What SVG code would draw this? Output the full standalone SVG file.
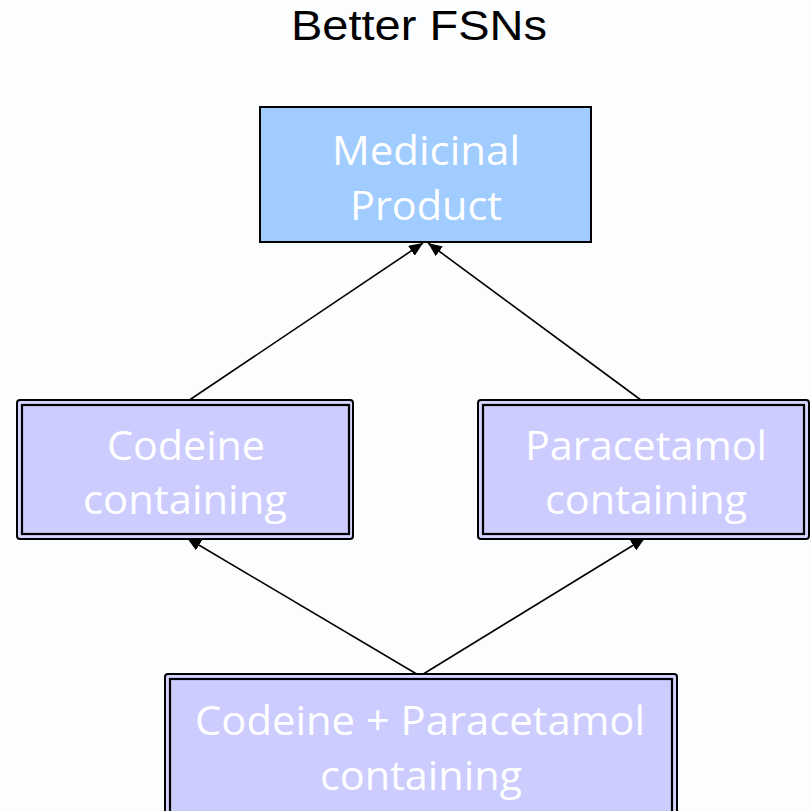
<svg xmlns="http://www.w3.org/2000/svg" width="811" height="811" viewBox="0 0 811 811">
  <defs>
    <marker id="arrow" viewBox="0 0 14 12" refX="14" refY="6" markerWidth="14" markerHeight="12" markerUnits="userSpaceOnUse" orient="auto">
      <path d="M0,0 L14,6 L0,12 Z" fill="#000"/>
    </marker>
    <style>
      .title { font-family: "Liberation Sans", Arial, sans-serif; font-size: 42px; fill: #000; }
      .label { font-family: "Open Sans", "Noto Sans", sans-serif; font-size: 41px; fill: #ffffff; text-anchor: middle; }
      .top { fill: #a0ccff; stroke: #000; stroke-width: 2; }
      .outer { fill: #d4d4ff; stroke: #000; stroke-width: 2; }
      .inner { fill: #ccccff; stroke: #000; stroke-width: 2.2; }
      .edge { stroke: #000; stroke-width: 1.6; fill: none; marker-end: url(#arrow); }
    </style>
  </defs>
  <rect x="0" y="0" width="811" height="811" fill="#fcfdff"/>

  <text class="title" x="291" y="40" textLength="256" lengthAdjust="spacingAndGlyphs">Better FSNs</text>

  <g id="connectors">
    <line class="edge" x1="185" y1="403" x2="423" y2="243"/>
    <line class="edge" x1="645" y1="403" x2="428" y2="243"/>
    <line class="edge" x1="420" y1="676" x2="187" y2="538"/>
    <line class="edge" x1="420" y1="676" x2="645" y2="538"/>
  </g>

  <g id="medicinal-product">
    <rect class="top" x="260" y="107" width="331" height="135"/>
    <text class="label" x="426" y="165" textLength="188" lengthAdjust="spacingAndGlyphs">Medicinal</text>
    <text class="label" x="426" y="220" textLength="152" lengthAdjust="spacingAndGlyphs">Product</text>
  </g>

  <g id="codeine-containing">
    <rect class="outer" x="17" y="400" width="336" height="139" rx="3"/>
    <rect class="inner" x="22" y="405" width="327" height="129"/>
    <text class="label" x="186" y="460" textLength="158" lengthAdjust="spacingAndGlyphs">Codeine</text>
    <text class="label" x="185" y="514" textLength="204" lengthAdjust="spacingAndGlyphs">containing</text>
  </g>

  <g id="paracetamol-containing">
    <rect class="outer" x="478" y="400" width="331" height="139" rx="3"/>
    <rect class="inner" x="483" y="405" width="321" height="129"/>
    <text class="label" x="646" y="460" textLength="242" lengthAdjust="spacingAndGlyphs">Paracetamol</text>
    <text class="label" x="646" y="514" textLength="202" lengthAdjust="spacingAndGlyphs">containing</text>
  </g>

  <g id="codeine-paracetamol-containing">
    <rect class="outer" x="165" y="674" width="512" height="150" rx="3"/>
    <rect class="inner" x="170" y="679" width="502" height="140"/>
    <text class="label" x="420" y="735" textLength="450" lengthAdjust="spacingAndGlyphs">Codeine + Paracetamol</text>
    <text class="label" x="421" y="790" textLength="202" lengthAdjust="spacingAndGlyphs">containing</text>
  </g>
</svg>
